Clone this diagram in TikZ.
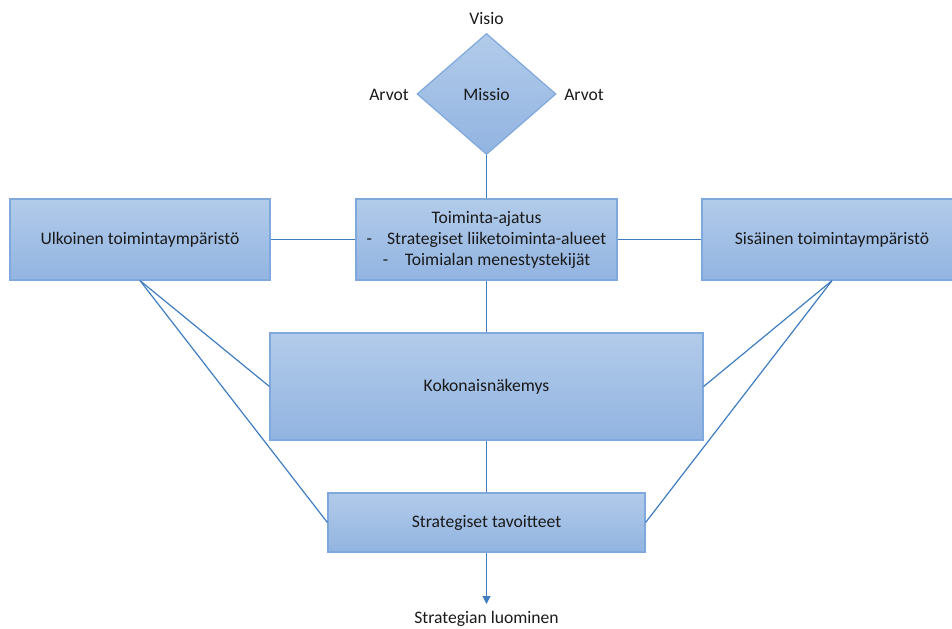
\documentclass[tikz,border=0pt]{standalone}
\usepackage{fontspec}
\setmainfont{Carlito}
\usetikzlibrary{shapes.geometric,arrows.meta}
\definecolor{boxtop}{HTML}{B2CBEA}
\definecolor{boxbot}{HTML}{92B4E1}
\definecolor{boxedge}{HTML}{7FA9DC}
\definecolor{linkblue}{HTML}{3F7CC0}
\definecolor{ink}{HTML}{1A1A1A}
\tikzset{
  txt/.style={font=\fontsize{13.2}{15.75}\selectfont},
  panel/.style={draw=boxedge, line width=0.9pt, top color=boxtop, bottom color=boxbot,
    rectangle, inner sep=0pt, text=ink, align=center, txt},
  gem/.style={draw=boxedge, line width=0.9pt, top color=boxtop, bottom color=boxbot,
    diamond, inner sep=0pt, text=ink, txt},
  label/.style={text=ink, txt, inner sep=0pt},
  link/.style={draw=linkblue, line width=0.9pt},
}
\begin{document}
\begin{tikzpicture}[x=0.75pt, y=-0.75pt]
\useasboundingbox (0,0) rectangle (952,628);
% mission diamond
\node[gem, minimum width=104.25pt, minimum height=90.75pt] (missio) at (486.5,94) {};
\node[label] at (486.5,95) {Missio};
\node[label] (visio) at (486.5,19) {Visio};
\node[label] (arvotL) at (389,95) {Arvot};
\node[label] (arvotR) at (584,95) {Arvot};
% boxes
\node[panel, minimum width=195pt, minimum height=60.75pt] (ulko) at (140,239.5) {Ulkoinen toimintaympäristö};
\node[panel, minimum width=195.75pt, minimum height=60.75pt] (ajatus) at (486.5,239.5)
  {Toiminta-ajatus\\-\hspace{0.85em}Strategiset liiketoiminta-alueet\\-\hspace{0.95em}Toimialan menestystekijät};
\node[panel, minimum width=195pt, minimum height=60.75pt] (sisa) at (832,239.5) {Sisäinen toimintaympäristö};
\node[panel, minimum width=324.75pt, minimum height=80.25pt] (kok) at (486.5,386.5) {Kokonaisnäkemys};
\node[panel, minimum width=237.75pt, minimum height=44.25pt] (tav) at (486.5,522.5) {Strategiset tavoitteet};
\node[label] (luom) at (486.5,619) {Strategian luominen};
\coordinate (tip) at (486.5,604);
% connectors
\draw[link] (missio.south) -- (ajatus.north);
\draw[link] (ulko.east) -- (ajatus.west);
\draw[link] (ajatus.east) -- (sisa.west);
\draw[link] (ajatus.south) -- (kok.north);
\draw[link] (kok.south) -- (tav.north);
\draw[link] (ulko.south) -- (kok.west);
\draw[link] (ulko.south) -- (tav.west);
\draw[link] (sisa.south) -- (kok.east);
\draw[link] (sisa.south) -- (tav.east);
\draw[link, -{Triangle[length=6pt, width=6pt]}] (tav.south) -- (tip);
\end{tikzpicture}
\end{document}
